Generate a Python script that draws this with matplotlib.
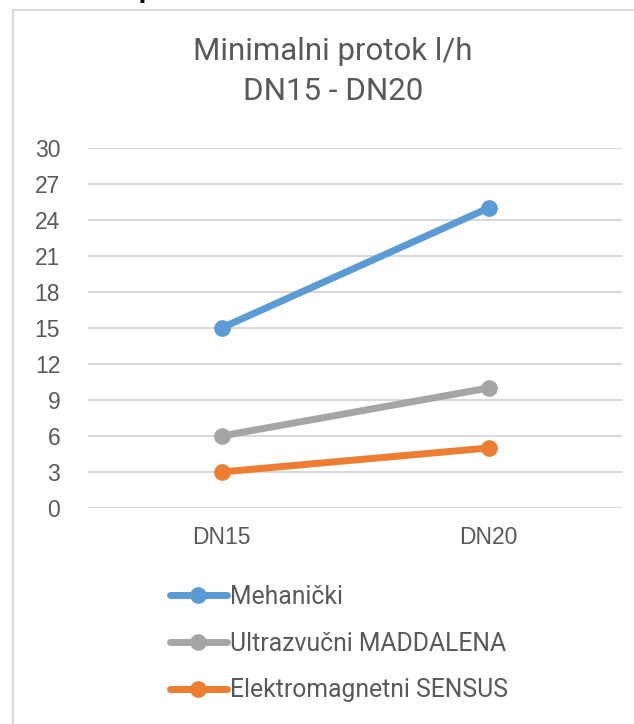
#!/usr/bin/env python

import matplotlib.pyplot as plt
from matplotlib.patches import Rectangle

plt.rcParams['font.family'] = ['Roboto', 'DejaVu Sans']

# data
categories = ['DN15', 'DN20']
mehanicki = [15, 25]
ultrazvucni = [6, 10]
elektromagnetni = [3, 5]
series_names = ['Mehanički', 'Ultrazvučni MADDALENA', 'Elektromagnetni SENSUS']
yticks = [0, 3, 6, 9, 12, 15, 18, 21, 24, 27, 30]

colors = ['#5B9BD5', '#A5A5A5', '#ED7D31']
txt = '#595959'

W, H = 634, 724
fig = plt.figure(figsize=(W/100, H/100), dpi=100)

# chart area border (runs off the right and bottom edges)
fig.patches.append(Rectangle((13/W, -0.05), 1.2, 1 - 10/H + 0.05,
                             transform=fig.transFigure, fill=False,
                             edgecolor='#d9d9d9', lw=1.5))

# cut-off text above the chart
fig.text(146/W, 1 + 3/H, 'p', fontsize=20, fontweight='bold', color='black',
         ha='center', va='baseline')

ax = fig.add_axes([88/W, 1 - 508/H, (622 - 88)/W, (508 - 148)/H])
x = range(len(categories))
for vals, name, c in zip([mehanicki, ultrazvucni, elektromagnetni], series_names, colors):
    ax.plot(x, vals, color=c, lw=5, marker='o', markersize=11,
            solid_capstyle='round', label=name)

ax.set_xlim(-0.5, 1.5)
ax.set_ylim(0, 30)
ax.set_yticks(yticks)
ax.set_xticks(list(x))
ax.set_xticklabels(categories)
ax.yaxis.grid(True, color='#d9d9d9', lw=1.5)
ax.set_axisbelow(True)
for s in ax.spines.values():
    s.set_visible(False)
ax.tick_params(length=0, labelsize=16.5, labelcolor=txt, pad=20,
               labelfontfamily='Liberation Sans')
ax.tick_params(axis='x', pad=13)

fig.text(333/W, 1 - 52/H, 'Minimalni protok l/h', ha='center', va='center',
         fontsize=22.5, color=txt)
fig.text(333/W, 1 - 92/H, 'DN15 - DN20', ha='center', va='center',
         fontsize=22.5, color=txt)

fig.legend(loc='upper left', bbox_to_anchor=(160/W, 1 - 575/H), frameon=False,
           fontsize=17.8, labelcolor=txt, handlelength=2.3, handletextpad=0.12,
           labelspacing=0.92, borderaxespad=0)

fig.savefig('out.png', dpi=100)
